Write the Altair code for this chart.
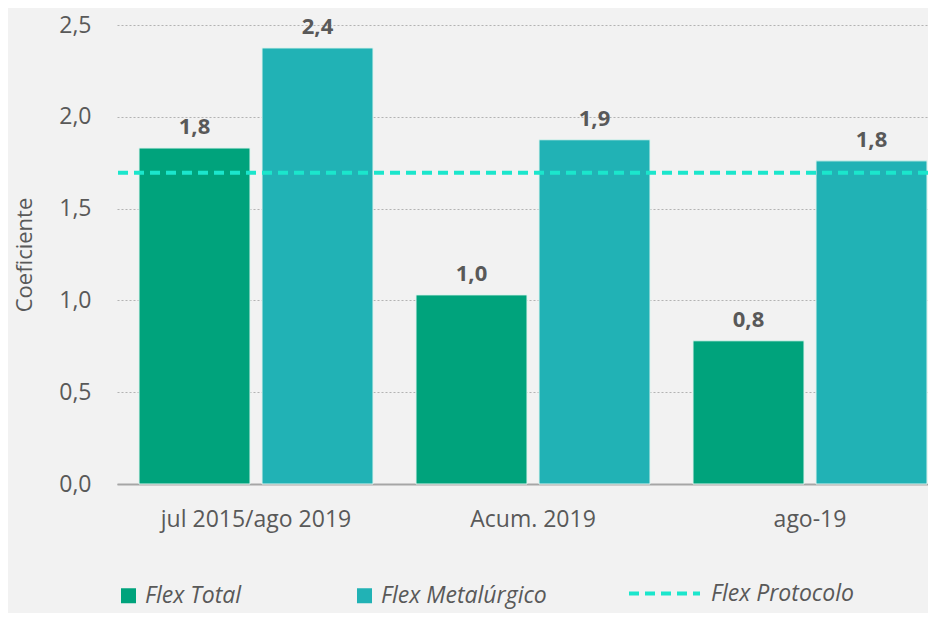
import altair as alt
import pandas as pd

categories = ["jul 2015/ago 2019", "Acum. 2019", "ago-19"]
series = ["Flex Total", "Flex Metalúrgico"]
flex_total = [1.83, 1.03, 0.78]
flex_metal = [2.375, 1.875, 1.76]
protocol_name = "Flex Protocolo"
protocol_value = 1.695

rows = []
for c, t, m in zip(categories, flex_total, flex_metal):
    rows.append({"cat": c, "serie": series[0], "value": t})
    rows.append({"cat": c, "serie": series[1], "value": m})
df = pd.DataFrame(rows)
df_rule = pd.DataFrame({"name": [protocol_name], "value": [protocol_value]})

FONT = "Open Sans"
GREY = "#595959"

x_enc = alt.X("cat:N", sort=categories, title=None,
              scale=alt.Scale(paddingInner=0.1552, paddingOuter=0.0415, align=0.957),
              axis=alt.Axis(labelAngle=0, labelFontSize=23, labelColor=GREY, labelFont=FONT,
                            labelPadding=24, labelLimit=500, ticks=False,
                            domainColor="#a6a6a6", domainWidth=2))
xo_enc = alt.XOffset("serie:N", sort=series,
                     scale=alt.Scale(paddingInner=0.0976, paddingOuter=0))
y_enc = alt.Y("value:Q", title="Coeficiente",
              scale=alt.Scale(domain=[0, 2.5], nice=False),
              axis=alt.Axis(values=[0, 0.5, 1.0, 1.5, 2.0, 2.5],
                            labelExpr="replace(format(datum.value, '.1f'), '.', ',')",
                            labelFontSize=23, labelColor=GREY, labelFont=FONT, labelPadding=26,
                            ticks=False, domain=False, grid=True, gridColor="#b3b3b3",
                            gridDash=[2, 2], gridWidth=1,
                            titleFontSize=22, titleColor=GREY, titleFont=FONT,
                            titleFontWeight="normal", titlePadding=22))

bars = alt.Chart(df).mark_bar(stroke="#dff3ee", strokeWidth=1).encode(
    x=x_enc, xOffset=xo_enc, y=y_enc,
    color=alt.Color("serie:N", sort=series,
                    scale=alt.Scale(domain=series, range=["#00a37c", "#21b2b5"]),
                    legend=alt.Legend(title=None, orient="none", legendX=0, legendY=559,
                                      direction="horizontal", symbolType="square",
                                      symbolSize=225, symbolStrokeWidth=0,
                                      labelFontSize=23, labelFont=FONT, labelColor=GREY,
                                      labelFontStyle="italic", columnPadding=111,
                                      labelOffset=5, labelLimit=500, padding=0))
)

labels = alt.Chart(df).transform_calculate(
    lbl="replace(format(datum.value, '.1f'), '.', ',')"
).mark_text(dy=-21, fontSize=22, fontWeight="bold", color=GREY, font=FONT).encode(
    x=alt.X("cat:N", sort=categories), xOffset=alt.XOffset("serie:N", sort=series),
    y=alt.Y("value:Q"), text="lbl:N"
)

rule = alt.Chart(df_rule).mark_rule(color="#1be6cc", strokeWidth=4).encode(
    y=alt.Y("value:Q"),
    strokeDash=alt.StrokeDash("name:N",
                              scale=alt.Scale(domain=[protocol_name], range=[[10, 6]]),
                              legend=alt.Legend(title=None, orient="none", legendX=510,
                                                legendY=531, symbolType="stroke",
                                                symbolSize=5041, symbolStrokeColor="#1be6cc",
                                                symbolStrokeWidth=4, symbolDash=[12, 3],
                                                labelFontSize=23, labelFont=FONT,
                                                labelColor=GREY, labelFontStyle="italic",
                                                labelOffset=9, labelLimit=500, padding=0))
)

chart = alt.layer(bars, labels, rule).resolve_legend(color="independent", strokeDash="independent").properties(
    width=811, height=459, autosize="none",
    padding={"left": 109, "top": 17, "right": 0, "bottom": 129},
    background="#f2f2f2"
).configure_view(stroke=None)

chart.save("out.html", embed_options={"renderer": "svg", "actions": False})
